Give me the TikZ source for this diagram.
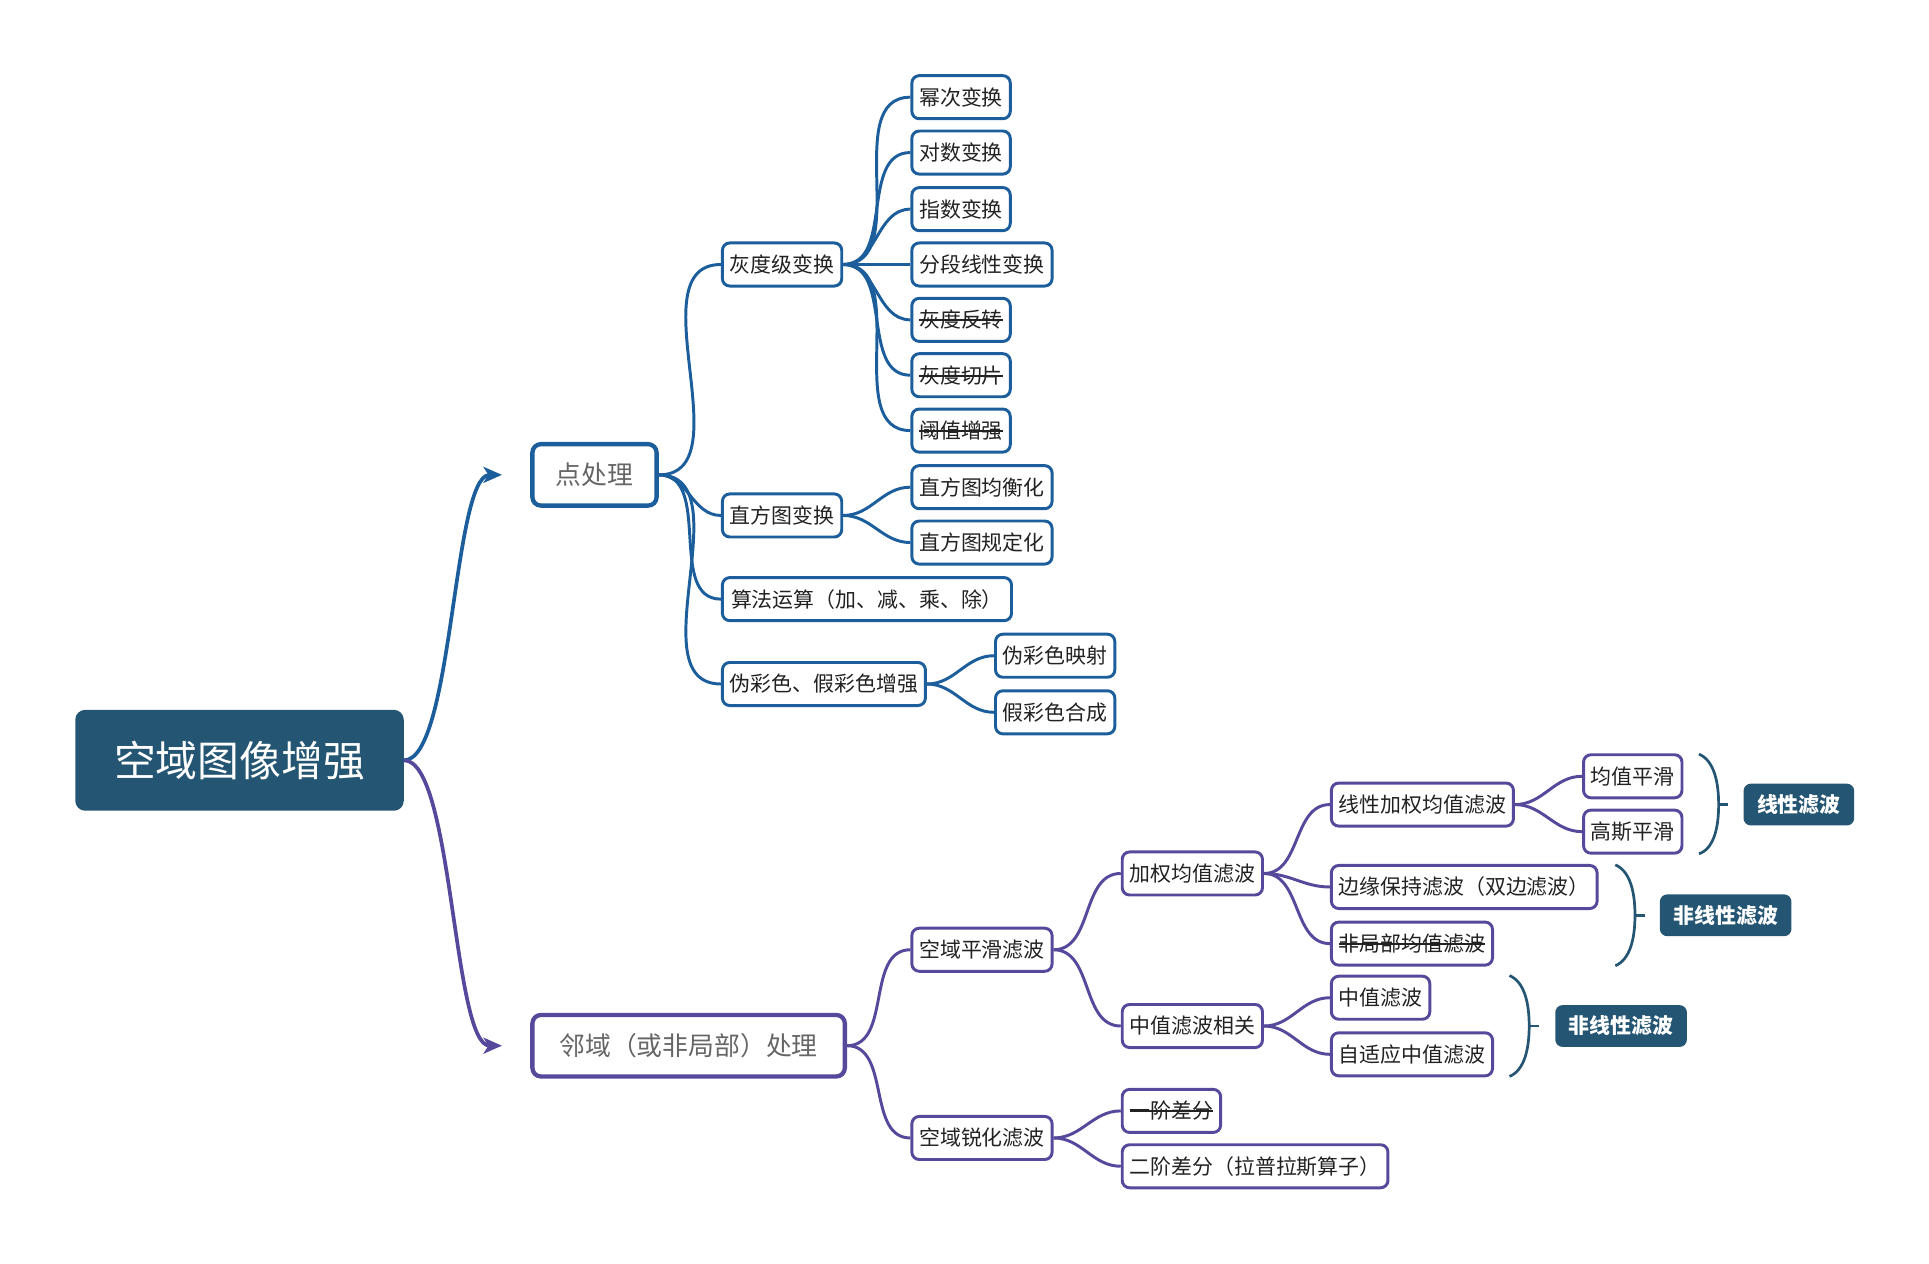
\documentclass[tikz,border=0pt]{standalone}
\usepackage{fontspec}
\setmainfont{Noto Sans CJK SC}
\usetikzlibrary{arrows.meta}
\definecolor{bl}{HTML}{1B5E9B}
\definecolor{pu}{HTML}{56499C}
\definecolor{tl}{HTML}{245673}
\definecolor{tx}{HTML}{222222}
\newcommand\mystrike[1]{\sbox0{#1}\rlap{\rule[0.32em]{\wd0}{1.6pt}}\usebox0}
\begin{document}
\begin{tikzpicture}[x=1pt,y=-1pt,
 leaf/.style={draw, line width=2.4pt, rounded corners=6pt, fill=white, font=\fontsize{17}{17}\selectfont, text=tx, inner xsep=6pt, inner ysep=0pt, minimum height=35pt, anchor=west},
 bleaf/.style={leaf, draw=bl},
 pleaf/.style={leaf, draw=pu},
 main/.style={draw, line width=3.5pt, rounded corners=7pt, fill=white, font=\fontsize{21}{21}\selectfont, text=black!60, minimum height=50pt, anchor=west},
 tag/.style={fill=tl, rounded corners=6pt, text=white, font=\fontsize{17}{17}\selectfont\bfseries, minimum height=34pt, inner xsep=8pt, anchor=west},
 bedge/.style={draw=bl, line width=2.4pt},
 pedge/.style={draw=pu, line width=2.4pt},
 brace/.style={draw=tl, line width=2.2pt}
]
\useasboundingbox (0,0) rectangle (1568,1027);
% root and first level
\node[fill=tl, rounded corners=8pt, minimum width=267pt, minimum height=82pt, text=white, font=\fontsize{34}{34}\selectfont, anchor=west] (root) at (61,618) {空域图像增强};
\node[main, draw=bl, minimum width=101pt] (pt) at (431,386) {点处理};
\node[main, draw=pu, minimum width=254pt] (nb) at (431,850) {邻域（或非局部）处理};
\coordinate (pa) at (408,386);
\coordinate (pn) at (408,850);
% blue subtree
\node[bleaf] (g1) at (586,215) {灰度级变换};
\node[bleaf] (g2) at (586,419) {直方图变换};
\node[bleaf, minimum width=235pt] (g3) at (586,487) {算法运算（加、减、乘、除）};
\node[bleaf] (g4) at (586,556) {伪彩色、假彩色增强};
\node[bleaf] (h1) at (740,79) {幂次变换};
\node[bleaf] (h2) at (740,124) {对数变换};
\node[bleaf] (h3) at (740,170) {指数变换};
\node[bleaf] (h4) at (740,215) {分段线性变换};
\node[bleaf] (h5) at (740,260) {\mystrike{灰度反转}};
\node[bleaf] (h6) at (740,305) {\mystrike{灰度切片}};
\node[bleaf] (h7) at (740,350) {\mystrike{阈值增强}};
\node[bleaf] (h8) at (740,396) {直方图均衡化};
\node[bleaf] (h9) at (740,441) {直方图规定化};
\node[bleaf] (h10) at (808,533) {伪彩色映射};
\node[bleaf] (h11) at (808,579) {假彩色合成};
% purple subtree
\node[pleaf] (s1) at (740,772) {空域平滑滤波};
\node[pleaf] (s2) at (740,925) {空域锐化滤波};
\node[pleaf] (t1) at (911,710) {加权均值滤波};
\node[pleaf] (t2) at (911,834) {中值滤波相关};
\node[pleaf] (t3) at (911,903) {\mystrike{一阶差分}};
\node[pleaf] (t4) at (911,948) {二阶差分（拉普拉斯算子）};
\node[pleaf] (u1) at (1081,654) {线性加权均值滤波};
\node[pleaf] (u2) at (1081,721) {边缘保持滤波（双边滤波）};
\node[pleaf] (u3) at (1081,767) {\mystrike{非局部均值滤波}};
\node[pleaf] (u4) at (1081,811) {中值滤波};
\node[pleaf] (u5) at (1081,857) {自适应中值滤波};
\node[pleaf] (v1) at (1286,631) {均值平滑};
\node[pleaf] (v2) at (1286,676) {高斯平滑};
% tags
\node[tag, minimum width=90pt] (k1) at (1417,654) {线性滤波};
\node[tag, minimum width=107pt] (k2) at (1349,744) {非线性滤波};
\node[tag, minimum width=107pt] (k3) at (1264,834) {非线性滤波};
% main connectors
\draw[bl, line width=3pt, -{Stealth[length=15pt,width=13pt,inset=4pt]}] (root.east) .. controls +(40,0) and +(-40,0) .. (pa);
\draw[pu, line width=3pt, -{Stealth[length=15pt,width=13pt,inset=4pt]}] (root.east) .. controls +(40,0) and +(-40,0) .. (pn);
% blue edges
\foreach \c in {g1,g2,g3,g4} \draw[bedge] (pt.east) to[out=0,in=180] (\c.west);
\foreach \c in {h1,h2,h3,h4,h5,h6,h7} \draw[bedge] (g1.east) to[out=0,in=180] (\c.west);
\foreach \c in {h8,h9} \draw[bedge] (g2.east) to[out=0,in=180] (\c.west);
\foreach \c in {h10,h11} \draw[bedge] (g4.east) to[out=0,in=180] (\c.west);
% purple edges
\foreach \c in {s1,s2} \draw[pedge] (nb.east) to[out=0,in=180] (\c.west);
\foreach \c in {t1,t2} \draw[pedge] (s1.east) to[out=0,in=180] (\c.west);
\foreach \c in {t3,t4} \draw[pedge] (s2.east) to[out=0,in=180] (\c.west);
\foreach \c in {u1,u2,u3} \draw[pedge] (t1.east) to[out=0,in=180] (\c.west);
\foreach \c in {u4,u5} \draw[pedge] (t2.east) to[out=0,in=180] (\c.west);
\foreach \c in {v1,v2} \draw[pedge] (u1.east) to[out=0,in=180] (\c.west);
% braces
\draw[brace] (1381,613) .. controls (1393,618) and (1397,635) .. (1397,654) .. controls (1397,673) and (1393,690) .. (1381,694);
\draw[brace] (1397,654) -- (1405,654);
\draw[brace] (1313,703) .. controls (1325,708) and (1329,725) .. (1329,744) .. controls (1329,763) and (1325,780) .. (1313,785);
\draw[brace] (1329,744) -- (1337,744);
\draw[brace] (1227,793) .. controls (1239,798) and (1243,815) .. (1243,834) .. controls (1243,853) and (1239,870) .. (1227,875);
\draw[brace] (1243,834) -- (1251,834);
\end{tikzpicture}
\end{document}
